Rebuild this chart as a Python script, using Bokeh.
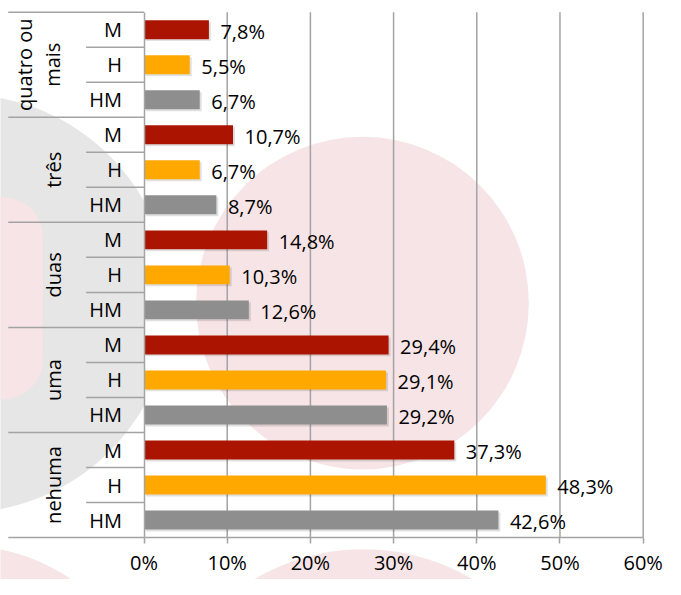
import math
from bokeh.plotting import figure
from bokeh.models import Range1d, FixedTicker, ColumnDataSource, PrintfTickFormatter
from bokeh.core.properties import value
from bokeh.embed import file_html
from bokeh.resources import INLINE

# ---------------- data ----------------
groups = ["nehuma", "uma", "duas", "três", "quatro ou mais"]   # bottom -> top
subgroups = ["HM", "H", "M"]                                   # bottom -> top inside a group
hm_values = [42.6, 29.2, 12.6, 8.7, 6.7]
h_values = [48.3, 29.1, 10.3, 6.7, 5.5]
m_values = [37.3, 29.4, 14.8, 10.7, 7.8]
x_ticks = [0, 10, 20, 30, 40, 50, 60]

# ---------------- styles / layout ----------------
colors = {"HM": "#8e8e8e", "H": "#ffa800", "M": "#aa1400"}
FONT = value("Open Sans")
FS = "20px"
LINE = "#a3a3a3"
PINK = "#f6e4e6"
GRAY_BG = "#e6e6e6"

W, H = 665, 579
S = 0.973                      # drawing scale (reference layout -> canvas)
REF_PX = 513 / 60.0            # reference pixels per percent
REF_ROW = 36.0                 # reference pixels per row
n_rows = len(groups) * len(subgroups)


def dx(ref_x):
    return (ref_x - 147.5) / REF_PX


def dy(ref_y):
    return (552.0 - ref_y) / REF_ROW


X_START, X_END = dx(0), dx(W / S)
Y_END, Y_START = dy(0), dy(H / S)

p = figure(width=W, height=H, output_backend="svg", toolbar_location=None,
           x_range=Range1d(X_START, X_END), y_range=Range1d(Y_START, Y_END),
           min_border=0)
p.outline_line_color = None
p.xgrid.visible = False
p.ygrid.visible = False
p.background_fill_color = "white"
p.border_fill_color = "white"


# ---------------- decorative background ----------------
def disc(cx, cy, r, color):
    p.ellipse(x=[dx(cx)], y=[dy(cy)], width=2 * r * S, height=2 * r * S,
              width_units="screen", height_units="screen",
              fill_color=color, line_color=None)


disc(-40, 311.5, 215, GRAY_BG)
p.quad(left=[dx(-40)], right=[dx(44)], top=[dy(202)], bottom=[dy(410)],
       fill_color=PINK, line_color=None, border_radius=41)
# white plot area
p.quad(left=[0], right=[x_ticks[-1]], bottom=[0], top=[n_rows],
       fill_color="white", line_color=None)
disc(372, 311, 171, PINK)
disc(-40, 760, 200, PINK)
disc(373, 785, 221, PINK)

# ---------------- grid lines ----------------
p.segment(x0=x_ticks[1:], x1=x_ticks[1:], y0=[0] * (len(x_ticks) - 1),
          y1=[n_rows] * (len(x_ticks) - 1), line_color=LINE, line_width=1.5)

# separators in the category column
g_bounds = [3 * i for i in range(len(groups) + 1)]
s_bounds = [r for r in range(n_rows + 1) if r % 3 != 0]
p.segment(x0=[dx(8)] * len(g_bounds), x1=[0] * len(g_bounds), y0=g_bounds, y1=g_bounds,
          line_color=LINE, line_width=1.5)
p.segment(x0=[dx(88)] * len(s_bounds), x1=[0] * len(s_bounds), y0=s_bounds, y1=s_bounds,
          line_color=LINE, line_width=1.5)

# ---------------- bars ----------------
ys, vals, cols, labels = [], [], [], []
series = {"HM": hm_values, "H": h_values, "M": m_values}
for gi, g in enumerate(groups):
    for si, s in enumerate(subgroups):
        v = series[s][gi]
        ys.append(3 * gi + si + 0.5)
        vals.append(v)
        cols.append(colors[s])
        labels.append(f"{v:.1f}".replace(".", ",") + "%")

src = ColumnDataSource(dict(y=ys, v=vals, color=cols, label=labels,
                            ys=[y - 2 / REF_ROW for y in ys],
                            vs=[v + 2 / REF_PX for v in vals]))
BAR_H = 0.54
p.hbar(y="ys", left=2 / REF_PX, right="vs", height=BAR_H, source=src,
       fill_color="#000000", fill_alpha=0.12, line_color=None)
p.hbar(y="y", left=0, right="v", height=BAR_H, source=src,
       fill_color="color", line_color=None)
p.text(x="v", y="y", text="label", source=src, x_offset=11.5, y_offset=1.5,
       text_align="left", text_baseline="middle", text_font=FONT,
       text_font_size=FS, text_color="#000000")

# ---------------- group labels ----------------
disp = [g.replace(" ou ", " ou\n") for g in groups]
LINE_GAP = 29.0
gsrc = ColumnDataSource(dict(
    x=[dx(54)] * len(groups),
    y=[3 * i + 1.5 for i in range(len(groups))],
    text=disp,
    xoff=[-LINE_GAP / 2 if "\n" in t else 0 for t in disp],
))
p.text(x="x", y="y", text="text", source=gsrc, x_offset="xoff", angle=math.pi / 2,
       text_align="center", text_baseline="middle", text_font=FONT,
       text_font_size=FS, text_color="#000000", text_line_height=1.065)

# ---------------- axes ----------------
xa = p.xaxis[0]
xa.fixed_location = 0
xa.bounds = (x_ticks[0], x_ticks[-1])
xa.ticker = FixedTicker(ticks=x_ticks)
xa.formatter = PrintfTickFormatter(format="%d%%")
xa.major_tick_out = 6
xa.major_tick_in = 0
xa.minor_tick_out = 0
xa.minor_tick_in = 0
xa.axis_line_color = LINE
xa.axis_line_width = 1.5
xa.major_tick_line_color = LINE
xa.major_tick_line_width = 1.5
xa.major_label_text_font = "Open Sans"
xa.major_label_text_font_size = FS
xa.major_label_text_color = "#000000"
xa.major_label_standoff = 5

ya = p.yaxis[0]
ya.fixed_location = 0
ya.bounds = (0, n_rows)
row_ticks = [r + 0.5 for r in range(n_rows)]
ya.ticker = FixedTicker(ticks=row_ticks)
ya.major_label_overrides = {t: subgroups[i % 3] for i, t in enumerate(row_ticks)}
ya.major_tick_out = 0
ya.major_tick_in = 0
ya.minor_tick_out = 0
ya.minor_tick_in = 0
ya.axis_line_color = LINE
ya.axis_line_width = 1.5
ya.major_label_text_font = "Open Sans"
ya.major_label_text_font_size = FS
ya.major_label_text_color = "#000000"
ya.major_label_standoff = 22

open("out.html", "w").write(file_html(p, INLINE))
